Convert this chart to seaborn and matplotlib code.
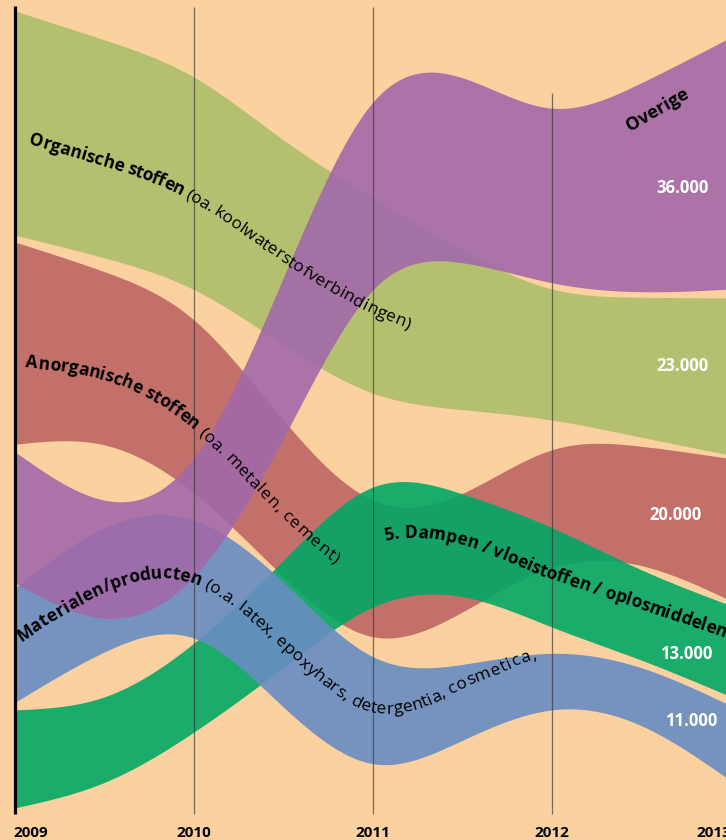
import numpy as np
import matplotlib
matplotlib.use("Agg")
import matplotlib.pyplot as plt
import seaborn as sns
from matplotlib.font_manager import FontProperties

# ---------------- data (band edges in thousands, measured from the baseline) ----------------
years = [2009, 2010, 2011, 2012, 2013]
year_labels = ["2009", "2010", "2011", "2012", "2013"]
knot_years = [2009.0, 2009.5, 2010.0, 2010.5, 2011.0, 2011.5, 2012.0, 2012.5, 2013.0]

organic_top = [116.1, 111.9, 106.5, 97.4, 89.0, 81.4, 75.8, 74.6, 74.5]
organic_bottom = [83.6, 80.3, 75.7, 67.7, 60.7, 58.3, 56.8, 54.3, 51.7]
anorganic_top = [82.6, 78.3, 71.3, 56.8, 45.2, 46.2, 52.5, 53.0, 51.2]
anorganic_bottom = [53.3, 53.2, 46.2, 34.1, 25.4, 29.0, 35.4, 35.7, 30.6]
dampen_top = [14.8, 16.7, 24.5, 36.5, 47.1, 46.1, 41.2, 35.1, 29.9]
dampen_bottom = [0.6, 4.3, 11.6, 21.0, 29.7, 31.2, 26.8, 22.0, 16.7]
materialen_top = [32.5, 41.2, 42.3, 33.3, 22.5, 21.4, 23.0, 20.9, 15.4]
materialen_bottom = [15.9, 23.2, 25.2, 15.2, 7.0, 10.4, 14.8, 12.5, 4.5]
overige_top = [52.2, 45.2, 51.4, 77.5, 102.9, 106.4, 102.0, 105.7, 112.3]
overige_bottom = [33.2, 28.1, 34.1, 54.2, 75.7, 79.6, 76.7, 75.4, 75.8]

value_labels = ["36.000", "23.000", "20.000", "13.000", "11.000"]
value_label_x = [2012.73, 2012.73, 2012.69, 2012.75, 2012.78]
value_label_y = [90.4, 64.6, 43.0, 22.9, 13.2]

grid_years = [2010, 2011, 2012]
grid_tops = [116.7, 116.7, 104.2]

BG = "#fbd19f"
COL_ORG = "#adbf6a"
COL_ANO = "#be6665"
COL_DAM = "#02a765"
COL_MAT = "#688dc3"
COL_OVE = "#a269a9"

sns.set_theme(style="white")
FONT = ["Open Sans", "DejaVu Sans"]
plt.rcParams["font.family"] = FONT


def smooth(xk, yk, xs):
    """Natural cubic spline through the knots."""
    xk = np.asarray(xk, float)
    yk = np.asarray(yk, float)
    n = len(xk)
    h = np.diff(xk)
    A = np.zeros((n, n))
    b = np.zeros(n)
    A[0, 0] = 1.0
    A[-1, -1] = 1.0
    for i in range(1, n - 1):
        A[i, i - 1] = h[i - 1]
        A[i, i] = 2 * (h[i - 1] + h[i])
        A[i, i + 1] = h[i]
        b[i] = 6 * ((yk[i + 1] - yk[i]) / h[i] - (yk[i] - yk[i - 1]) / h[i - 1])
    M = np.linalg.solve(A, b)
    idx = np.clip(np.searchsorted(xk, xs) - 1, 0, n - 2)
    x0 = xk[idx]; x1 = xk[idx + 1]; hh = x1 - x0
    return (M[idx] * (x1 - xs) ** 3 / (6 * hh) + M[idx + 1] * (xs - x0) ** 3 / (6 * hh)
            + (yk[idx] - M[idx] * hh ** 2 / 6) * (x1 - xs) / hh
            + (yk[idx + 1] - M[idx + 1] * hh ** 2 / 6) * (xs - x0) / hh)


fig = plt.figure(figsize=(7.26, 8.4), dpi=100, facecolor=BG)
ax = fig.add_axes([0, 0, 1, 1])
ax.set_facecolor(BG)
ax.set_xlim(2008.9162, 2012.9721)
ax.set_ylim(-4.058, 117.68)
ax.axis("off")

xs = np.linspace(2009, 2013, 1200)
bands = [
    (organic_top, organic_bottom, COL_ORG),
    (anorganic_top, anorganic_bottom, COL_ANO),
    (dampen_top, dampen_bottom, COL_DAM),
    (materialen_top, materialen_bottom, COL_MAT),
    (overige_top, overige_bottom, COL_OVE),
]
for z, (top, bot, col) in enumerate(bands):
    ax.fill_between(xs, smooth(knot_years, bot, xs), smooth(knot_years, top, xs),
                    color=col, alpha=0.9, lw=0, zorder=2 + z)

ax.vlines(grid_years, -0.3, grid_tops, color="#333333", alpha=0.65, lw=0.9, zorder=8)
ax.vlines([2009], -0.3, 116.8, color="black", lw=2.3, zorder=9)

for yr, lab in zip(years, year_labels):
    ha = "left" if yr == 2009 else ("right" if yr == 2013 else "center")
    xpos = 2008.99 if yr == 2009 else yr
    ax.text(xpos, -3.05, lab, ha=ha, va="center", fontsize=11, fontweight="bold",
            color="black", zorder=12)

renderer = fig.canvas.get_renderer()


def tw(s, fp):
    w, h, d = renderer.get_text_width_height_descent(s, fp, ismath=False)
    return w


def curved_label(parts, top, bot, x_start, offsets, size, track=0.0):
    xx = np.linspace(2009, 2013, 4000)
    mid = (smooth(knot_years, top, xx) + smooth(knot_years, bot, xx)) / 2
    pts = ax.transData.transform(np.column_stack([xx, mid]))
    seg = np.hypot(np.diff(pts[:, 0]), np.diff(pts[:, 1]))
    arc = np.concatenate([[0], np.cumsum(seg)])
    s = np.interp(x_start, xx, arc)
    chars = []
    for text, weight in parts:
        fp = FontProperties(family=FONT, weight=weight, size=size)
        ref = tw("l", fp)
        prev = 0.0
        for i in range(len(text)):
            cur = tw(text[:i + 1] + "l", fp) - ref + track * (i + 1)
            chars.append((text[i], fp, s + (prev + cur) / 2))
            prev = cur
        s += prev
    n = len(chars)
    of_f = [o[0] for o in offsets]
    of_v = [o[1] for o in offsets]
    centers = [c[2] for c in chars]
    inv = ax.transData.inverted()

    def at(sv):
        kk = np.interp(sv, centers, np.arange(n))
        o = np.interp(kk / max(n - 1, 1), of_f, of_v)
        px = np.interp(sv, arc, pts[:, 0]); py = np.interp(sv, arc, pts[:, 1])
        xa = np.interp(sv - 3, arc, pts[:, 0]); ya = np.interp(sv - 3, arc, pts[:, 1])
        xb = np.interp(sv + 3, arc, pts[:, 0]); yb = np.interp(sv + 3, arc, pts[:, 1])
        a = np.arctan2(yb - ya, xb - xa)
        return px - o * np.sin(a), py + o * np.cos(a)

    for ch, fp, sc in chars:
        if ch == " ":
            continue
        p1 = at(sc - 5)
        p2 = at(sc + 5)
        ang = np.arctan2(p2[1] - p1[1], p2[0] - p1[0])
        bx, by = at(sc)
        dx, dy = inv.transform((bx, by))
        ax.text(dx, dy, ch, fontproperties=fp, rotation=np.degrees(ang),
                rotation_mode="anchor", ha="center", va="baseline", color="black",
                zorder=11, clip_on=False)


LS = 12.5
curved_label([("Organische stoffen", "bold"), (" (oa. koolwaterstofverbindingen)", "normal")],
             organic_top, organic_bottom, 2009.10, [(0, -17), (1, -17)], LS)
curved_label([("Anorganische stoffen", "bold"), (" (oa. metalen, cement)", "normal")],
             anorganic_top, anorganic_bottom, 2009.07, [(0, -23), (1, -13)], LS, track=0.6)
curved_label([("Materialen/producten", "bold"),
              (" (o.a. latex, epoxyhars, detergentia, cosmetica,", "normal")],
             materialen_top, materialen_bottom, 2009.03,
             [(0, -1), (0.3, -5), (0.68, -4), (1, 24)], LS, track=0.3)
curved_label([("5. Dampen / vloeistoffen / oplosmiddelen", "bold")],
             dampen_top, dampen_bottom, 2011.07, [(0, 2), (0.45, -3), (1, 10)], LS)

ax.text(2012.587, 101.7, "Overige", rotation=30, ha="center", va="center",
        fontsize=13, fontweight="bold", color="black", zorder=11)

for lab, lx, ly in zip(value_labels, value_label_x, value_label_y):
    ax.text(lx, ly, lab, ha="center", va="center", fontsize=12, fontweight="bold",
            color="white", zorder=11)

fig.savefig("out.png", dpi=100, facecolor=BG)
